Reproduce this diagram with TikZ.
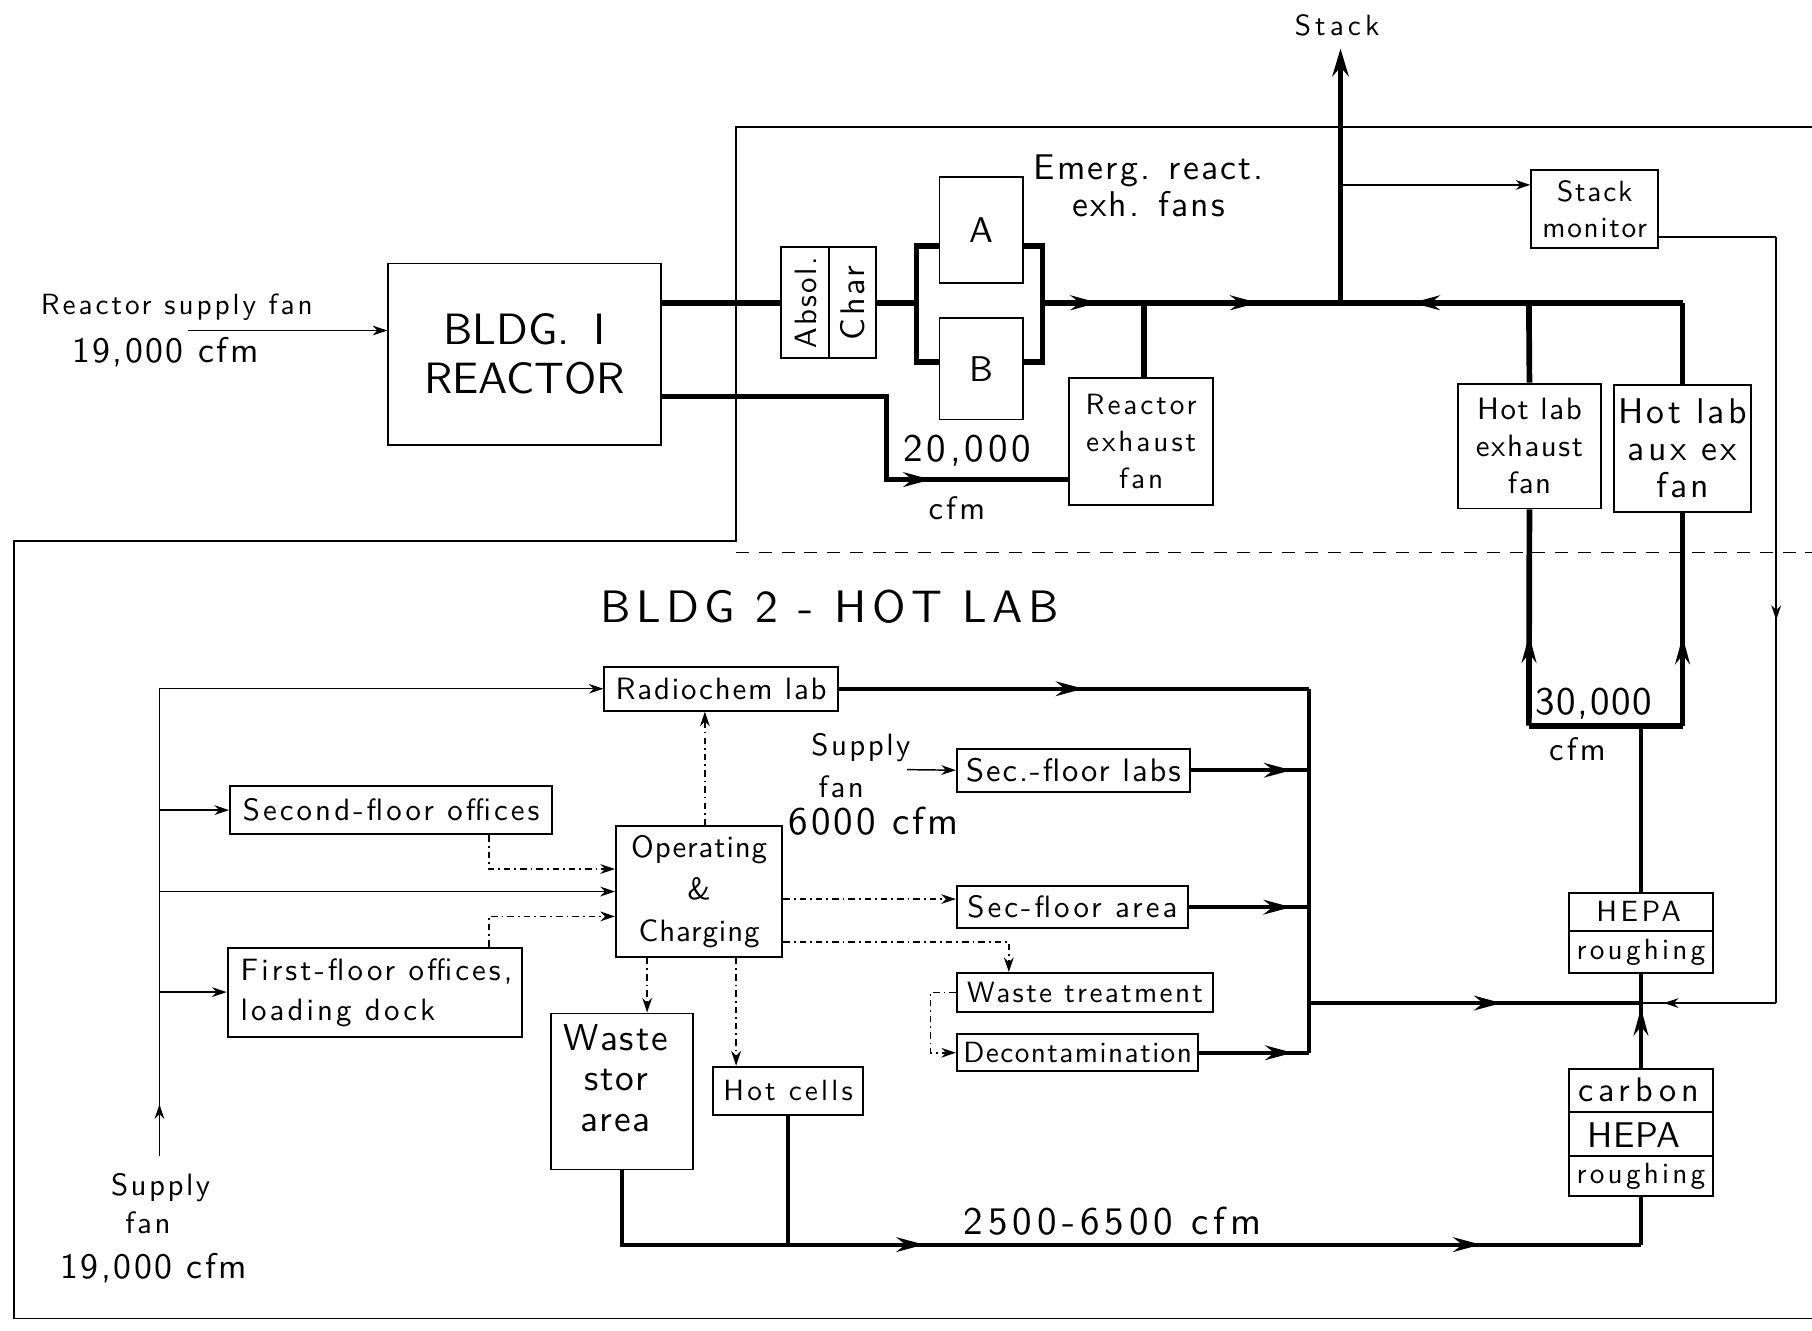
\documentclass[tikz,border=0pt]{standalone}
\usepackage{fontspec}
\setsansfont{lmsans10-regular.otf}
\usetikzlibrary{arrows.meta,decorations.markings}
\newdimen\ux \ux=0.025cm
\newcommand\tf[3]{\sffamily\fontsize{#2pt}{#3pt}\selectfont\addfontfeatures{LetterSpace=#1}}
\tikzset{
 box/.style={draw, line width=1.2pt, inner sep=0pt, align=center},
 tl/.style={line width=0.9pt},
 thk/.style={line width=2.5pt},
 vthk/.style={line width=3.5pt},
 dl/.style={line width=0.9pt, dash pattern=on 4pt off 2.5pt on 1pt off 2.5pt},
 ma/.style={postaction={decorate,decoration={markings,mark=at position #1 with {\arrow{Stealth[length=17pt,width=9pt]}}}}},
 sa/.style={postaction={decorate,decoration={markings,mark=at position #1 with {\arrow{Stealth[length=9pt,width=6pt]}}}}},
 tip/.style={-{Stealth[length=9pt,width=6pt]}},
 bigtip/.style={-{Stealth[length=17pt,width=10pt]}},
 lbl/.style={inner sep=0pt, align=center},
 sz/.style 2 args={minimum width=#1\ux, minimum height=#2\ux},
}
\begin{document}
\begin{tikzpicture}[x=0.025cm, y=-0.025cm]
\useasboundingbox[fill=white] (0,0) rectangle (1568,1151);

% ---------- boundary ----------
\draw[line width=1.1pt] (1568,110) -- (637,110) -- (637,468) -- (12,468) -- (12,1141) -- (1568,1141);
\draw[line width=1pt, dash pattern=on 8pt off 6pt] (637,478) -- (1568,478);

% ---------- Bldg 1 boxes ----------
\node[box, sz={236}{157}, font=\tf{0}{27}{30}] (reactor) at (454,306.5) {BLDG.\hspace{0.55em}I\hspace{1.2em}\\REACTOR\hspace{0.47em}};
\node[box, sz={82}{96}] (absch) at (717,262) {};
\draw[line width=1.2pt] (absch.north) -- (absch.south);
\node[lbl, rotate=90, font=\tf{8}{19}{20}] (absol) at (697,262) {Absol.};
\node[lbl, rotate=90, font=\tf{8}{21}{20}] (char) at (738,262) {Char};
\node[box, sz={72}{92}, font=\tf{10}{22}{24}] (fa) at (849,199) {A};
\node[box, sz={72}{88}, font=\tf{10}{22}{24}] (fb) at (849,319) {B};
\node[box, sz={125}{110}, font=\tf{10}{18}{23}] (rxf) at (987.5,382) {Reactor\\exhaust\\fan};
\node[box, sz={110}{68}, font=\tf{6}{18}{22}] (smon) at (1380,181) {Stack\\monitor};
\node[box, sz={123}{108}, font=\tf{5}{19}{23}] (hlx) at (1323.5,386) {Hot lab\\exhaust\\fan};
\node[box, sz={118}{110}, font=\tf{9}{22}{23}] (hla) at (1456,388) {Hot lab\\aux ex\\fan};

% ---------- Bldg 1 labels ----------
\node[lbl, font=\tf{14}{18}{20}] (stacklbl) at (1157,22) {Stack};
\node[lbl, font=\tf{6}{22}{23}] (emerg) at (994,161) {Emerg. react.\\exh. fans};
\node[lbl, font=\tf{10}{18}{20}] (rsflbl) at (153,266) {Reactor supply fan};
\node[lbl, font=\tf{7}{22}{24}] (rsfcfm) at (143,305) {19,000 cfm};
\node[lbl, font=\tf{10}{24}{26}] (l20k) at (837,390) {20,000};
\node[lbl, font=\tf{10}{20}{22}] (l20cfm) at (828,440) {cfm};

% ---------- Bldg 1 connectors ----------
\coordinate (bl) at (793,262);
\coordinate (br) at (902,262);
\coordinate (j1) at (990,262);
\coordinate (sj) at (1160,262);
\coordinate (h1) at (1323,262);
\coordinate (h2) at (1456,262);
\coordinate (stk) at (1160,42);
\coordinate (mt) at (1160,160);
\coordinate (rsf) at (163,286);
\coordinate (rl1) at (767,343);
\coordinate (rl2) at (767,415);

\draw[tl, tip] (rsf) -- (reactor.west |- rsf);
\draw[vthk] (absch.west -| reactor.east) -- (absch.west);
\draw[vthk] (absch.east) -- (bl);
\draw[vthk] (fa.west |- 0,213) -| (bl) |- (fb.west |- 0,313);
\draw[vthk] (fa.east |- 0,213) -| (br) |- (fb.east |- 0,313);
\draw[vthk, ma=0.55] (br) -- (j1);
\draw[vthk, ma=0.58] (j1) -- (sj);
\draw[vthk] (j1) -- (rxf.north -| j1);
\draw[vthk, bigtip] (sj) -- (stk);
\draw[vthk, ma=0.62] (h1) -- (sj);
\draw[vthk] (h2) -- (h1);
\draw[vthk] (h1) -- (hlx.north);
\draw[vthk] (h2) -- (hla.north);
\draw[vthk, ma=0.72] (reactor.east |- rl1) -- (rl1) -- (rl2) -- (rxf.west |- rl2);
\draw[tl, tip] (mt) -- (smon.west |- mt);

% stack monitor return
\coordinate (mr0) at (1435,205);
\coordinate (mr1) at (1537,205);
\coordinate (mr2) at (1537,868);
\coordinate (hj) at (1420,868);
\draw[tl] (smon.east |- mr0) -- (mr1);
\draw[tl, sa=0.5] (mr1) -- (mr2);
\draw[tl, sa=0.83] (mr2) -- (hj);

% ---------- hot lab fans / filters ----------
\coordinate (u1) at (1323,628);
\coordinate (u2) at (1456,628);
\coordinate (uc) at (1420,628);
\draw[vthk, ma=0.42] (u1) -- (hlx.south);
\draw[vthk, ma=0.42] (u2) -- (hla.south);
\draw[vthk] (u1) -- (u2);
\node[lbl, font=\tf{4}{24}{26}] (l30k) at (1379,609) {30,000};
\node[lbl, font=\tf{10}{20}{22}] (l30cfm) at (1365,648) {cfm};

\node[box, sz={124}{69}] (hepa) at (1420,807.5) {};
\draw[line width=1.2pt] (hepa.west |- 0,806) -- (hepa.east |- 0,806);
\node[lbl, font=\tf{12}{18}{20}] (hepa1) at (1418,789) {HEPA};
\node[lbl, font=\tf{11}{18}{20}] (rough1) at (1420,824) {roughing};
\node[box, sz={124}{110}] (carb) at (1420,980) {};
\draw[line width=1.2pt] (carb.west |- 0,962) -- (carb.east |- 0,962);
\draw[line width=1.2pt] (carb.west |- 0,1000) -- (carb.east |- 0,1000);
\node[lbl, font=\tf{15}{21}{22}] (carbon) at (1418,943) {carbon};
\node[lbl, font=\tf{2}{22}{24}] (hepa2) at (1414,982) {HEPA};
\node[lbl, font=\tf{11}{18}{20}] (rough2) at (1420,1018) {roughing};

\draw[thk] (uc) -- (hepa.north);
\draw[thk, ma=0.64] (carb.north) -- (hepa.south);

% ---------- Bldg 2 ----------
\node[lbl, font=\tf{12}{28}{30}] (bldg2) at (718,525) {BLDG 2 - HOT LAB};

\node[box, sz={202}{38}, font=\tf{6}{19}{20}] (radio) at (624,596) {Radiochem lab};
\node[box, sz={202}{37}, font=\tf{6}{20}{20}] (labs) at (929,666.5) {Sec.-floor labs};
\node[box, sz={279}{42}, font=\tf{10}{19}{20}] (off2) at (338.5,701) {Second-floor offices};
\node[box, sz={144}{113}, font=\tf{3}{19}{26}] (opc) at (605,771.5) {Operating\\\&\\Charging};
\node[box, sz={200}{36}, font=\tf{10}{19}{20}] (area) at (928,785) {Sec-floor area};
\node[box, sz={222}{34}, font=\tf{8}{18}{20}] (wt) at (939,859) {Waste treatment};
\node[box, sz={209}{32}, font=\tf{5}{18}{20}] (decon) at (932.5,911) {Decontamination};
\node[box, sz={255}{77}] (off1) at (324.5,858.5) {};
\node[lbl, align=left, anchor=west, font=\tf{10}{19}{25}] (off1t) at (208,859) {First-floor offices,\\loading dock};
\node[box, sz={123}{135}] (wsa) at (538.5,944.5) {};
\node[lbl, font=\tf{5}{23}{25}] (wsat) at (533,933) {Waste\\stor\\area};
\node[box, sz={130}{42}, font=\tf{11}{18}{20}] (hc) at (682,944) {Hot cells};

\node[lbl, font=\tf{8}{19}{20}] (sup6) at (745,647) {Supply};
\node[lbl, font=\tf{8}{19}{20}] (fan6) at (728,681) {fan};
\node[lbl, font=\tf{8}{24}{26}] (cfm6) at (756,711) {6000 cfm};
\node[lbl, font=\tf{13}{24}{26}] (l2500) at (963,1057) {2500-6500 cfm};
\node[lbl, font=\tf{8}{19}{20}] (supL) at (139,1028) {Supply};
\node[lbl, font=\tf{8}{19}{20}] (fanL) at (128,1058) {fan};
\node[lbl, font=\tf{7}{22}{24}] (cfmL) at (133,1097) {19,000 cfm};

% collector
\coordinate (c1) at (1133,596);
\coordinate (c2) at (1133,911);
\coordinate (co) at (1133,868);
\draw[thk, ma=0.52] (radio.east) -- (c1);
\draw[thk] (c1) -- (c2);
\draw[thk, ma=0.85] (labs.east) -- (labs.east -| c1);
\draw[thk, ma=0.85] (area.east) -- (area.east -| c1);
\draw[thk, ma=0.85] (decon.east) -- (decon.east -| c1);
\draw[thk, ma=0.58] (co) -- (hj);

% bottom exhaust
\coordinate (b1) at (538.5,1077);
\coordinate (b2) at (682,1077);
\coordinate (bm) at (1000,1077);
\coordinate (b3) at (1420,1077);
\draw[thk] (wsa.south) -- (b1) -- (b2);
\draw[thk] (hc.south) -- (b2);
\draw[thk, ma=0.37] (b2) -- (bm);
\draw[thk, ma=0.67] (bm) -- (b3);
\draw[thk] (b3) -- (carb.south);

% supply lines
\coordinate (s0) at (138,1000);
\coordinate (s1) at (138,596);
\draw[tl, sa=0.11] (s0) -- (s1);
\draw[tl, tip] (s1) -- (radio.west);
\draw[tl, tip] (s1 |- off2.west) -- (off2.west);
\draw[tl, tip] (s1 |- opc.west) -- (opc.west);
\draw[tl, tip] (s1 |- off1.west) -- (off1.west);
\coordinate (sf6) at (785,666);
\draw[tl, tip] (sf6) -- (labs.west);

% dotted transfers
\coordinate (d1) at (423,752);
\coordinate (d2) at (423,793);
\coordinate (d3) at (805,883);
\draw[dl, tip] (off2.south -| d1) |- (opc.west |- d1);
\draw[dl, tip] (off1.north -| d2) |- (opc.west |- d2);
\draw[dl, tip] (opc.north -| 610,0) -- (radio.south -| 610,0);
\draw[dl, tip] (opc.east |- 0,778) -- (area.west |- 0,778);
\draw[dl, tip] (opc.east |- 0,815) -| (wt.north -| 873,0);
\draw[dl, tip] (opc.south -| 560,0) -- (wsa.north -| 560,0);
\draw[dl, tip] (opc.south -| 637,0) -- (hc.north -| 637,0);
\draw[dl, tip] (wt.west) -| (d3) |- (decon.west);
\end{tikzpicture}
\end{document}
